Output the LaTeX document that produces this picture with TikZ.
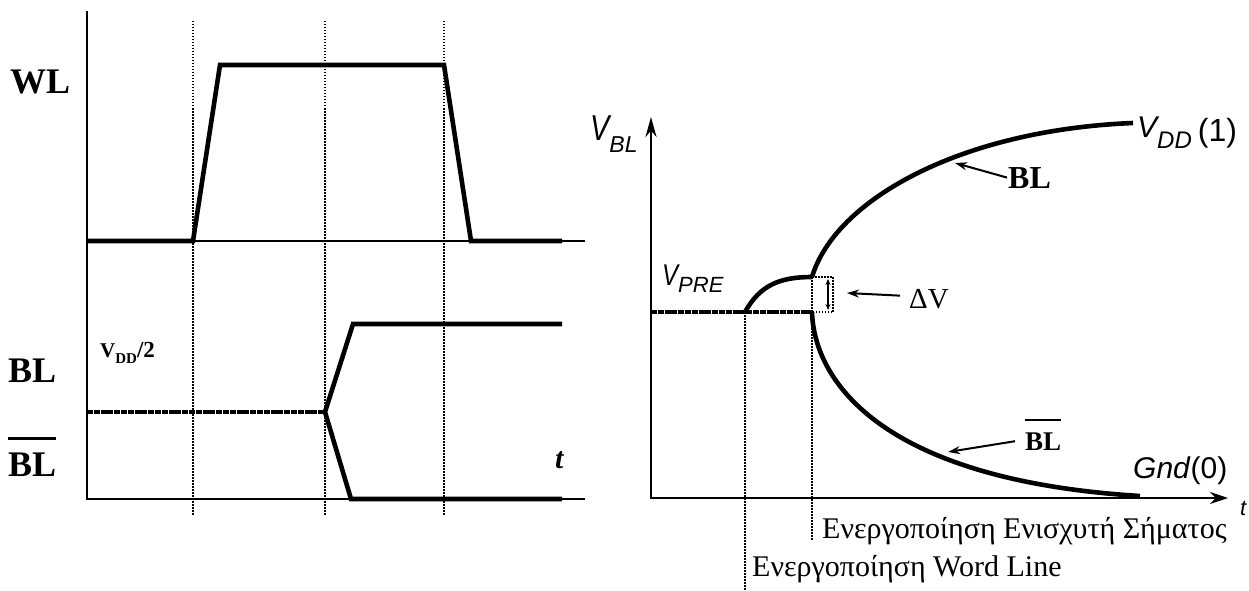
\documentclass[tikz,border=0pt]{standalone}
\usepackage{fontspec}
\usepackage{graphicx}
\setmainfont{Liberation Serif}
\setsansfont{Liberation Sans}
\usepackage{tikz}
\usetikzlibrary{arrows.meta,positioning}
\newcommand{\sz}[1]{\fontsize{#1}{#1}\selectfont}
\newcommand{\narrowV}{\scalebox{0.8}[1]{V}}
\tikzset{
  axis line/.style  = {line width=2.6pt, line join=miter},
  signal/.style     = {line width=4.6pt, line join=miter},
  precharge/.style  = {signal, dash pattern=on 6pt off 0.8pt},
  guide/.style      = {line width=1.6pt, dash pattern=on 1.5pt off 1.5pt},
  pointer/.style    = {-{Stealth[length=12pt,width=8pt]}, line width=2pt},
  delta arrow/.style = {{Stealth[length=6pt,width=5pt]}-{Stealth[length=6pt,width=5pt]},
                        line width=1.2pt},
  bar line/.style   = {line width=2.6pt},
  big label/.style  = {inner sep=0pt, anchor=base west, font=\sz{36}\bfseries},
  curve label/.style = {inner sep=0pt, anchor=base west, font=\bfseries},
  sans label/.style = {inner sep=0pt, anchor=base west, font=\sffamily\itshape},
  greek label/.style = {inner sep=0pt, anchor=base west, font=\sz{30}},
}
\begin{document}
\begin{tikzpicture}[x=1pt, y=-1pt]
  \useasboundingbox (0,0) rectangle (1249,591);
  % timing of WL and BL
  \draw[axis line] (87,11) -- (87,500);
  \draw[axis line] (87,241) -- (585,241);
  \draw[axis line] (87,499) -- (585,499);
  \foreach \x in {193,325,444}
    \draw[guide] (\x,21) -- (\x,515);
  \draw[signal] (87,241) -- (193,241) -- (220,65) -- (444,65) -- (471,241) -- (562,241);
  \draw[precharge] (87,412) -- (325,412);
  \draw[signal] (325,412) -- (353,324) -- (562,324);
  \draw[signal] (325,412) -- (351,499) -- (562,499);
  \node[big label] (wl) at (10,94) {WL};
  \node[big label] (bl) at (8,382) {BL};
  \node[big label] (blbar) at (8,476) {BL};
  \draw[bar line] ([yshift=14pt]blbar.north west) -- ([yshift=14pt]blbar.north east);
  \node[inner sep=0pt, anchor=base west, font=\bfseries] (vdd half) at (100,357)
    {{\sz{21}V}\raisebox{-6pt}{\sz{15}DD}{\sz{23}/2}};
  \node[inner sep=0pt, anchor=base west, font=\sz{30}\bfseries\itshape] (t left) at (555,468) {t};
  % bit line voltages
  \draw[axis line, {Stealth[length=20pt,width=11pt]}-{Stealth[length=18pt,width=12pt]}]
    (651,117) -- (651,498) -- (1228,498);
  \coordinate (wl on) at (745,312);
  \coordinate (sa on) at (812,277);
  \coordinate (sa low) at (812,312);
  \draw[precharge] (651,312) -- (sa low);
  \draw[guide] (wl on) -- (745,591);
  \draw[guide] (sa on) -- (812,540);
  \draw[guide] (sa on) -- (833,277) -- (833,312) -- (sa low);
  \draw[delta arrow] (828,279) -- (828,310);
  \draw[signal] (wl on) .. controls (760,285) and (780,277) .. (sa on);
  \draw[signal] (sa on) .. controls (835,200) and (960,130) .. (1133,123);
  \draw[signal] (sa low) .. controls (814,380) and (880,480) .. (1140,496);
  \node[sans label] (vbl) at (590,140) {{\sz{36}\narrowV}\raisebox{-12pt}{\sz{23}BL}};
  \node[sans label] (vpre) at (662,285) {{\sz{30}\narrowV}\raisebox{-7pt}{\sz{22}PRE}};
  \node[sans label] (vdd) at (1137,138)
    {{\sz{30}V}\raisebox{-10pt}{\sz{24}DD}\hspace{6pt}\raisebox{-3pt}{\sz{32}\upshape(1)}};
  \node[sans label, font=\sz{30}\sffamily] (gnd) at (1133,478) {\textit{Gnd}(0)};
  \node[sans label, font=\sz{22}\sffamily\itshape] (t right) at (1240,515) {t};
  \node[inner sep=0pt, anchor=base west, font=\sz{29}] (dv) at (909,308) {ΔV};
  \coordinate (dv tip) at (847,293);
  \draw[pointer] ([xshift=-9pt, yshift=3pt]dv.west) -- (dv tip);
  \node[curve label, font=\sz{32}\bfseries] (bl up) at (1008,188) {BL};
  \coordinate (bl tip) at (955,163);
  \draw[pointer] ([xshift=-1pt]bl up.west) -- (bl tip);
  \node[curve label, font=\sz{27}\bfseries] (bl down) at (1025,450) {BL};
  \draw[bar line, line width=2pt] ([yshift=12pt]bl down.north west) -- ([yshift=12pt]bl down.north east);
  \coordinate (bl down tip) at (948,452);
  \draw[pointer] ([xshift=-10pt]bl down.west) -- (bl down tip);
  \node[greek label] (sa text) at (822,538) {Ενεργοποίηση Ενισχυτή Σήματος};
  \node[greek label] (wl text) at (752,576) {Ενεργοποίηση Word Line};
\end{tikzpicture}
\end{document}
